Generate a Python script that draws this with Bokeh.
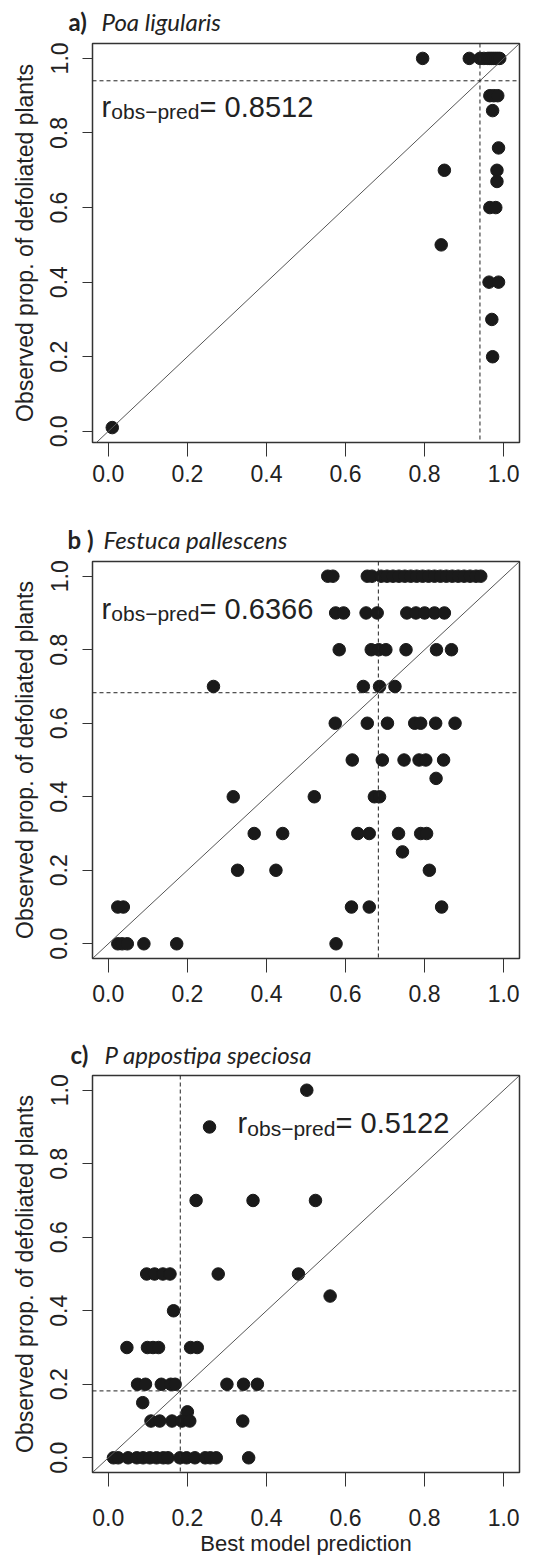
from bokeh.plotting import figure
from bokeh.models import Span, Slope, Label, FixedTicker, PrintfTickFormatter, Range1d
from bokeh.layouts import column
from bokeh.embed import file_html
from bokeh.resources import INLINE

# ---------------- data ----------------
tick_values = [0.0, 0.2, 0.4, 0.6, 0.8, 1.0]

# a) Poa ligularis
a_pred = [0.01, 0.795, 0.913, 0.94, 0.95, 0.96, 0.965, 0.97, 0.975, 0.98, 0.985, 0.99,
          0.965, 0.975, 0.985, 0.972, 0.987, 0.85, 0.983, 0.983, 0.965, 0.98,
          0.842, 0.963, 0.987, 0.97, 0.972]
a_obs = [0.01, 1.0, 1.0, 1.0, 1.0, 1.0, 1.0, 1.0, 1.0, 1.0, 1.0, 1.0,
         0.9, 0.9, 0.9, 0.86, 0.76, 0.7, 0.7, 0.67, 0.6, 0.6,
         0.5, 0.4, 0.4, 0.3, 0.2]
a_mean = 0.94
a_r = "0.8512"

# b) Festuca pallescens
b_pred = [0.555, 0.568, 0.655, 0.667, 0.69, 0.705, 0.72, 0.735, 0.75, 0.765, 0.78, 0.795,
          0.81, 0.825, 0.84, 0.855, 0.87, 0.885, 0.90, 0.915, 0.93, 0.942,
          0.575, 0.595, 0.652, 0.68, 0.755, 0.778, 0.80, 0.825, 0.85,
          0.584, 0.665, 0.684, 0.702, 0.753, 0.83, 0.868,
          0.266, 0.645, 0.686, 0.725,
          0.574, 0.655, 0.706, 0.775, 0.79, 0.828, 0.877,
          0.617, 0.693, 0.748, 0.786, 0.803, 0.848,
          0.829,
          0.316, 0.521, 0.673, 0.686,
          0.369, 0.441, 0.631, 0.66, 0.734, 0.79, 0.805,
          0.744,
          0.327, 0.424, 0.812,
          0.024, 0.038, 0.615, 0.66, 0.843,
          0.024, 0.035, 0.048, 0.09, 0.173, 0.576]
b_obs = [1.0] * 22 + [0.9] * 9 + [0.8] * 7 + [0.7] * 4 + [0.6] * 7 + [0.5] * 6 + [0.45] + \
        [0.4] * 4 + [0.3] * 7 + [0.25] + [0.2] * 3 + [0.1] * 5 + [0.0] * 6
b_mean = 0.683
b_r = "0.6366"

# c) Pappostipa speciosa
c_pred = [0.502, 0.256, 0.222, 0.366, 0.524,
          0.097, 0.117, 0.138, 0.156, 0.278, 0.481,
          0.561, 0.165,
          0.047, 0.099, 0.113, 0.127, 0.208, 0.225,
          0.074, 0.094, 0.134, 0.158, 0.169, 0.30, 0.342, 0.377,
          0.087, 0.2,
          0.108, 0.13, 0.161, 0.186, 0.206, 0.34,
          0.013, 0.025, 0.05, 0.072, 0.088, 0.105, 0.122, 0.139, 0.151, 0.181,
          0.198, 0.219, 0.245, 0.258, 0.273, 0.355]
c_obs = [1.0, 0.9, 0.7, 0.7, 0.7,
         0.5, 0.5, 0.5, 0.5, 0.5, 0.5,
         0.44, 0.4,
         0.3, 0.3, 0.3, 0.3, 0.3, 0.3,
         0.2, 0.2, 0.2, 0.2, 0.2, 0.2, 0.2, 0.2,
         0.15, 0.125,
         0.1, 0.1, 0.1, 0.1, 0.1, 0.1] + [0.0] * 16
c_mean = 0.182
c_r = "0.5122"

x_title = "Best model prediction"
y_title = "Observed prop. of defoliated plants"

FONT = "Liberation Sans"
TFONT = "Lato"
W = 547
YFIX = 10  # baseline correction for Label text


def text_fig(h):
    t = figure(width=W, height=h, output_backend="svg", toolbar_location=None, tools="",
               x_range=Range1d(0, W), y_range=Range1d(h, 0), title=None,
               x_axis_location=None, y_axis_location=None, min_border=0,
               frame_align=False)
    t.grid.visible = False
    t.outline_line_color = None
    return t


def title_fig(h, letter, species, letter_x, species_x, baseline):
    t = text_fig(h)
    t.add_layout(Label(x=letter_x, y=baseline, text=letter, text_font=TFONT,
                       text_font_style="bold", text_font_size="24px", text_color="#222222",
                       text_baseline="alphabetic", y_offset=YFIX))
    t.add_layout(Label(x=species_x, y=baseline, text=species, text_font=TFONT,
                       text_font_style="italic", text_font_size="24px", text_color="#222222",
                       text_baseline="alphabetic", y_offset=YFIX))
    return t


def panel(pred, obs, mean, rval, r_x, r_y, height, top, bottom, y_lo, x_standoff):
    p = figure(width=W, height=height, output_backend="svg", toolbar_location=None,
               x_range=Range1d(-0.04, 1.04), y_range=Range1d(y_lo, 1.04), title=None,
               min_border_left=92, min_border_right=28, min_border_top=top,
               min_border_bottom=bottom, tools="")
    p.grid.visible = False
    p.outline_line_color = "#333333"
    p.outline_line_width = 1.5
    p.background_fill_color = "white"
    p.border_fill_color = "white"
    for ax in (p.xaxis[0], p.yaxis[0]):
        ax.ticker = FixedTicker(ticks=tick_values)
        ax.formatter = PrintfTickFormatter(format="%.1f")
        ax.axis_line_color = None
        ax.major_tick_line_color = "#333333"
        ax.major_tick_line_width = 1
        ax.major_tick_in = 0
        ax.minor_tick_line_color = None
        ax.major_label_text_font = FONT
        ax.major_label_text_font_size = "23px"
        ax.major_label_text_color = "#222222"
    p.yaxis.major_tick_out = 10
    p.yaxis.major_label_orientation = "parallel"
    p.yaxis.major_label_standoff = 15
    p.yaxis.axis_label = y_title
    p.yaxis.axis_label_text_font = FONT
    p.yaxis.axis_label_text_font_size = "23px"
    p.yaxis.axis_label_text_font_style = "normal"
    p.yaxis.axis_label_text_color = "#222222"
    p.yaxis.axis_label_standoff = 10
    p.xaxis.major_tick_out = 14
    p.xaxis.major_label_standoff = x_standoff

    p.add_layout(Slope(gradient=1, y_intercept=0, line_color="#555555", line_width=1))
    p.add_layout(Span(location=mean, dimension="height", line_color="#222222",
                      line_width=1, line_dash="4 3"))
    p.add_layout(Span(location=mean, dimension="width", line_color="#222222",
                      line_width=1, line_dash="4 3"))
    p.scatter(pred, obs, size=12.5, color="#1a1a1a", line_color="#1a1a1a")

    common = dict(x=r_x, y=r_y, text_font=FONT, text_color="#222222",
                  text_baseline="alphabetic")
    p.add_layout(Label(text="r", text_font_size="29px", y_offset=YFIX, **common))
    p.add_layout(Label(text="obs\u2212pred", text_font_size="21px", x_offset=9.7,
                       y_offset=YFIX - 5, **common))
    p.add_layout(Label(text="= " + rval, text_font_size="29px", x_offset=98,
                       y_offset=YFIX, **common))
    return p


ta = title_fig(38, "a)", "Poa ligularis", 68, 101, 31)
pa = panel(a_pred, a_obs, a_mean, a_r, -0.017, 0.843, 462, 5, 58, -0.03, 8)
tb = title_fig(56, "b )", "Festuca pallescens", 67, 103, 49.3)
pb = panel(b_pred, b_obs, b_mean, b_r, -0.017, 0.884, 454, 5, 52, -0.04, 12)
tc = title_fig(60, "c)", "P appostipa speciosa", 70, 104, 54)
pc = panel(c_pred, c_obs, c_mean, c_r, 0.327, 0.883, 464, 5, 62, -0.04, 22)
xl = text_fig(21)
xl.add_layout(Label(x=305.5, y=19, text=x_title, text_font=FONT, text_font_size="22px",
                    text_color="#222222", text_align="center", text_baseline="alphabetic",
                    y_offset=YFIX))

layout = column(ta, pa, tb, pb, tc, pc, xl)
open("out.html", "w").write(file_html(layout, INLINE))
